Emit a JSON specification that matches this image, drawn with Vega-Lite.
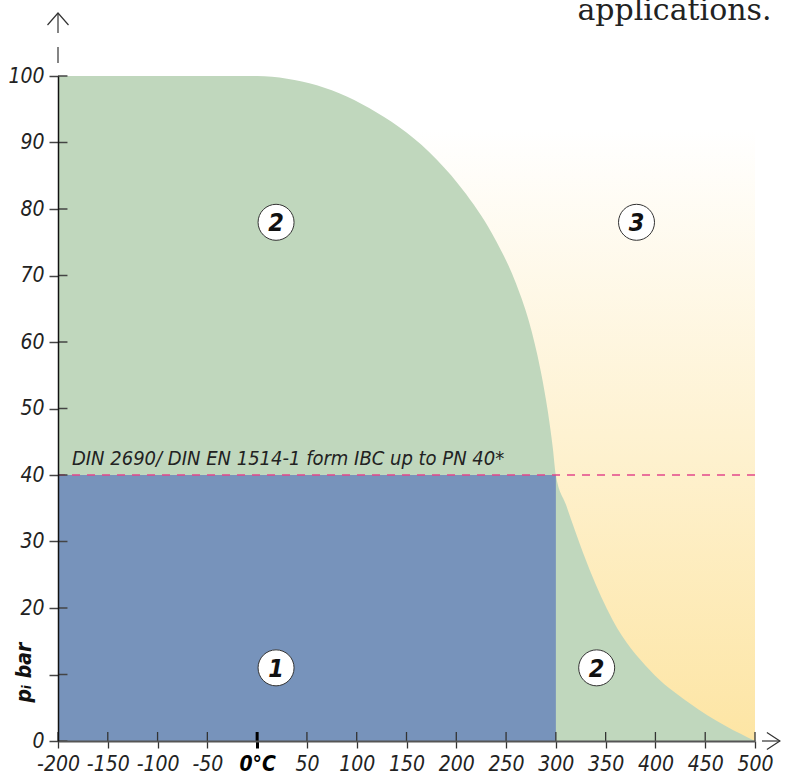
{
  "$schema": "https://vega.github.io/schema/vega-lite/v6.json",
  "width": 697,
  "height": 665,
  "autosize": {"type": "none"},
  "padding": {"left": 58, "top": 76, "right": 38, "bottom": 35},
  "background": "white",
  "config": {"view": {"stroke": null}, "font": "DejaVu Sans Condensed, Roboto, sans-serif"},
  "datasets": {
    "regions": [
      {"region": "3", "t0": 150, "t1": 500, "p0": 0, "p1": 92},
      {"region": "1", "t0": -200, "t1": 300, "p0": 0, "p1": 40}
    ],
    "curve": [
      {"t": -200, "p": 100}, {"t": 0, "p": 100}, {"t": 30, "p": 99.6}, {"t": 60, "p": 98.6},
      {"t": 90, "p": 96.9}, {"t": 120, "p": 94.5}, {"t": 150, "p": 91.5}, {"t": 180, "p": 87.5},
      {"t": 210, "p": 82.2}, {"t": 240, "p": 75.2}, {"t": 260, "p": 68.8}, {"t": 275, "p": 62.0},
      {"t": 285, "p": 55.5}, {"t": 292, "p": 49.5}, {"t": 297, "p": 44.0}, {"t": 300, "p": 40.0},
      {"t": 310, "p": 35.6}, {"t": 320, "p": 31.3}, {"t": 334, "p": 25.7}, {"t": 357, "p": 18.2},
      {"t": 394, "p": 10.7}, {"t": 434, "p": 5.7}, {"t": 471, "p": 2.2}, {"t": 500, "p": 0}
    ],
    "zones": [
      {"n": "1", "t": 19, "p": 11},
      {"n": "2", "t": 341, "p": 11},
      {"n": "2", "t": 19, "p": 78},
      {"n": "3", "t": 381, "p": 78}
    ],
    "notes": [
      {"label": "DIN 2690/ DIN EN 1514-1 form IBC up to PN 40*", "t": -186, "p": 41.5}
    ],
    "xticks": [
      {"t": -200}, {"t": -150}, {"t": -100}, {"t": -50}, {"t": 0}, {"t": 50}, {"t": 100}, {"t": 150},
      {"t": 200}, {"t": 250}, {"t": 300}, {"t": 350}, {"t": 400}, {"t": 450}, {"t": 500}
    ],
    "yticks": [
      {"p": 0}, {"p": 10}, {"p": 20}, {"p": 30}, {"p": 40}, {"p": 50}, {"p": 60}, {"p": 70}, {"p": 80}, {"p": 90}, {"p": 100}
    ],
    "header": [
      {"label": "applications.", "t": 516.6, "p": 108.4}
    ]
  },
  "layer": [
    {
      "data": {"name": "regions"},
      "transform": [{"filter": "datum.region === '3'"}],
      "mark": {
        "type": "rect",
        "color": {
          "gradient": "linear", "x1": 0, "y1": 0, "x2": 0, "y2": 1,
          "stops": [{"offset": 0, "color": "#ffffff"}, {"offset": 1, "color": "#fde5a4"}]
        }
      },
      "encoding": {
        "x": {
          "field": "t0", "type": "quantitative",
          "scale": {"domain": [-200, 500], "nice": false, "zero": false},
          "axis": {
            "title": null,
            "values": [-200, -150, -100, -50, 0, 50, 100, 150, 200, 250, 300, 350, 400, 450, 500],
            "grid": false, "zindex": 1,
            "domainColor": "#555", "domainWidth": 2,
            "tickColor": {"condition": {"test": "datum.value === 0", "value": "#000"}, "value": "#333"},
            "tickSize": 7,
            "tickWidth": {"condition": {"test": "datum.value === 0", "value": 3}, "value": 1.3},
            "labelFont": "DejaVu Sans Condensed, Roboto, sans-serif", "labelFontSize": 21, "labelFontStyle": "italic",
            "labelFontWeight": {"condition": {"test": "datum.value === 0", "value": "bold"}, "value": "normal"},
            "labelColor": {"condition": {"test": "datum.value === 0", "value": "#000"}, "value": "#222"},
            "labelPadding": 5,
            "labelExpr": "datum.value === 0 ? '0°C' : '' + datum.value",
            "labelFlush": false, "labelOverlap": false, "labelBound": false
          }
        },
        "x2": {"field": "t1"},
        "y": {
          "field": "p0", "type": "quantitative",
          "scale": {"domain": [0, 100], "nice": false},
          "axis": {
            "title": "pᵢ bar",
            "values": [0, 10, 20, 30, 40, 50, 60, 70, 80, 90, 100],
            "grid": false, "zindex": 1,
            "domainColor": "#111", "domainWidth": 1.5,
            "tickColor": "#444", "tickSize": 9, "tickWidth": 1.5,
            "labelFont": "DejaVu Sans Condensed, Roboto, sans-serif", "labelFontSize": 21, "labelFontStyle": "italic",
            "labelColor": "#222", "labelPadding": 5,
            "labelExpr": "datum.value === 10 ? '' : '' + datum.value",
            "labelFlush": false, "labelOverlap": false, "labelBound": false,
            "titleFont": "DejaVu Sans Condensed, Roboto, sans-serif", "titleFontSize": 21, "titleFontWeight": "bold",
            "titleFontStyle": "italic", "titleColor": "#111",
            "titleAngle": 270, "titleX": -34, "titleY": 596, "titleAlign": "center", "titleBaseline": "middle"
          }
        },
        "y2": {"field": "p1"}
      }
    },
    {
      "data": {"name": "curve"},
      "mark": {"type": "area", "interpolate": "monotone", "color": "#c0d7bd"},
      "encoding": {
        "x": {"field": "t", "type": "quantitative"},
        "y": {"field": "p", "type": "quantitative"}
      }
    },
    {
      "data": {"name": "regions"},
      "transform": [{"filter": "datum.region === '1'"}],
      "mark": {"type": "rect", "color": "#7793bb"},
      "encoding": {
        "x": {"field": "t0", "type": "quantitative"},
        "x2": {"field": "t1"},
        "y": {"field": "p0", "type": "quantitative"},
        "y2": {"field": "p1"}
      }
    },
    {
      "data": {"values": [{}]},
      "mark": {"type": "rule", "color": "#e2478c", "strokeDash": [8, 7], "strokeWidth": 1.3},
      "encoding": {"y": {"datum": 40, "type": "quantitative"}}
    },
    {
      "data": {"name": "notes"},
      "mark": {"type": "text", "align": "left", "baseline": "alphabetic", "fontSize": 20, "fontStyle": "italic", "color": "#222"},
      "encoding": {
        "x": {"field": "t", "type": "quantitative"},
        "y": {"field": "p", "type": "quantitative"},
        "text": {"field": "label"}
      }
    },
    {
      "data": {"name": "zones"},
      "mark": {"type": "point", "shape": "circle", "size": 1296, "filled": true, "fill": "#ffffff", "stroke": "#333", "strokeWidth": 1, "opacity": 1},
      "encoding": {
        "x": {"field": "t", "type": "quantitative"},
        "y": {"field": "p", "type": "quantitative"}
      }
    },
    {
      "data": {"name": "zones"},
      "mark": {"type": "text", "align": "center", "baseline": "middle", "dy": 1, "fontSize": 25, "fontStyle": "italic", "fontWeight": "bold", "color": "#111"},
      "encoding": {
        "x": {"field": "t", "type": "quantitative"},
        "y": {"field": "p", "type": "quantitative"},
        "text": {"field": "n"}
      }
    },
    {
      "data": {"name": "yticks"},
      "mark": {"type": "rule", "color": "#444", "strokeWidth": 1.5},
      "encoding": {
        "y": {"field": "p", "type": "quantitative"},
        "x": {"datum": -200, "type": "quantitative"},
        "x2": {"datum": -190.5}
      }
    },
    {
      "data": {"name": "xticks"},
      "mark": {"type": "rule", "color": "#333"},
      "encoding": {
        "x": {"field": "t", "type": "quantitative"},
        "y": {"datum": 0, "type": "quantitative"},
        "y2": {"datum": 1.35},
        "strokeWidth": {"condition": {"test": "datum.t === 0", "value": 3}, "value": 1.3},
        "color": {"condition": {"test": "datum.t === 0", "value": "#000"}, "value": "#333"}
      }
    },
    {
      "data": {"values": [{}]},
      "mark": {"type": "rule", "color": "#333", "strokeWidth": 1.2},
      "encoding": {
        "x": {"datum": -200, "type": "quantitative"},
        "y": {"datum": 101.95, "type": "quantitative"},
        "y2": {"datum": 104.36}
      }
    },
    {
      "data": {"values": [{}]},
      "mark": {"type": "rule", "color": "#333", "strokeWidth": 1.2},
      "encoding": {
        "x": {"datum": -200, "type": "quantitative"},
        "y": {"datum": 106.47, "type": "quantitative"},
        "y2": {"datum": 109.47}
      }
    },
    {
      "data": {"values": [{}]},
      "mark": {"type": "point", "shape": "M-1,1.14L0,0L1,1.14", "size": 441, "filled": false, "stroke": "#333", "strokeWidth": 1.2, "opacity": 1},
      "encoding": {
        "x": {"datum": -200, "type": "quantitative"},
        "y": {"datum": 109.47, "type": "quantitative"}
      }
    },
    {
      "data": {"values": [{}]},
      "mark": {"type": "rule", "color": "#333", "strokeWidth": 1.2},
      "encoding": {
        "y": {"datum": 0, "type": "quantitative"},
        "x": {"datum": 507, "type": "quantitative"},
        "x2": {"datum": 525}
      }
    },
    {
      "data": {"values": [{}]},
      "mark": {"type": "point", "shape": "M-1,-0.65L0,0L-1,0.65", "size": 676, "filled": false, "stroke": "#333", "strokeWidth": 1.2, "opacity": 1},
      "encoding": {
        "x": {"datum": 525, "type": "quantitative"},
        "y": {"datum": 0, "type": "quantitative"}
      }
    },
    {
      "data": {"name": "header"},
      "mark": {"type": "text", "align": "right", "baseline": "alphabetic", "font": "DejaVu Serif", "fontSize": 30, "color": "#222"},
      "encoding": {
        "x": {"field": "t", "type": "quantitative"},
        "y": {"field": "p", "type": "quantitative"},
        "text": {"field": "label"}
      }
    }
  ]
}
